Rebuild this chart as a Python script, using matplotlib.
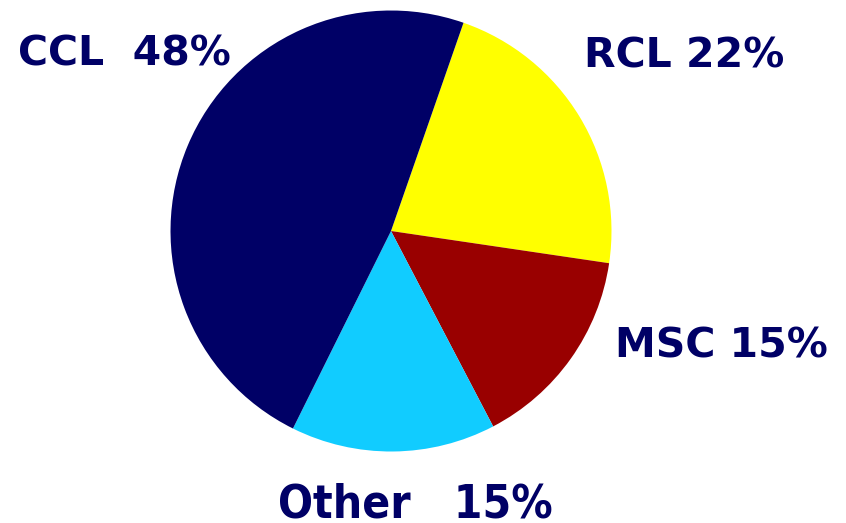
import matplotlib
matplotlib.use("Agg")
import matplotlib.pyplot as plt

# Share of each category, drawn clockwise starting with RCL
categories = ["RCL", "MSC", "Other", "CCL"]
shares = [22, 15, 15, 48]
colors = ["#FFFF00", "#990000", "#11CCFF", "#000066"]
label_text = ["RCL 22%", "MSC 15%", "Other   15%", "CCL  48%"]

W, H = 846, 523
fig = plt.figure(figsize=(W / 100, H / 100), dpi=100)
ax = fig.add_axes([0, 0, 1, 1])

ax.pie(shares, colors=colors, startangle=70.8, counterclock=False,
       center=(391, H - 231), radius=220.5,
       wedgeprops=dict(linewidth=0), frame=True)
ax.set_xlim(0, W)
ax.set_ylim(0, H)
ax.set_aspect("equal")
ax.axis("off")

navy = "#000066"
fs = 41 * 72 / 100  # about 41 px em height
label_pos = {
    "RCL": (684, H - 68),
    "MSC": (721, H - 358),
    "Other": (415, H - 517),
    "CCL": (124.5, H - 65),
}
for cat, txt in zip(categories, label_text):
    x, y = label_pos[cat]
    kw = dict(fontsize=fs, fontweight="bold", family="DejaVu Sans")
    if cat == "Other":
        # taller, narrower lettering for the bottom label
        kw = dict(fontsize=fs * 1.12, fontweight="bold", family="DejaVu Sans",
                  fontstretch="condensed")
    ax.text(x, y, txt, color=navy, ha="center", va="baseline", **kw)

fig.savefig("out.png", dpi=100)
